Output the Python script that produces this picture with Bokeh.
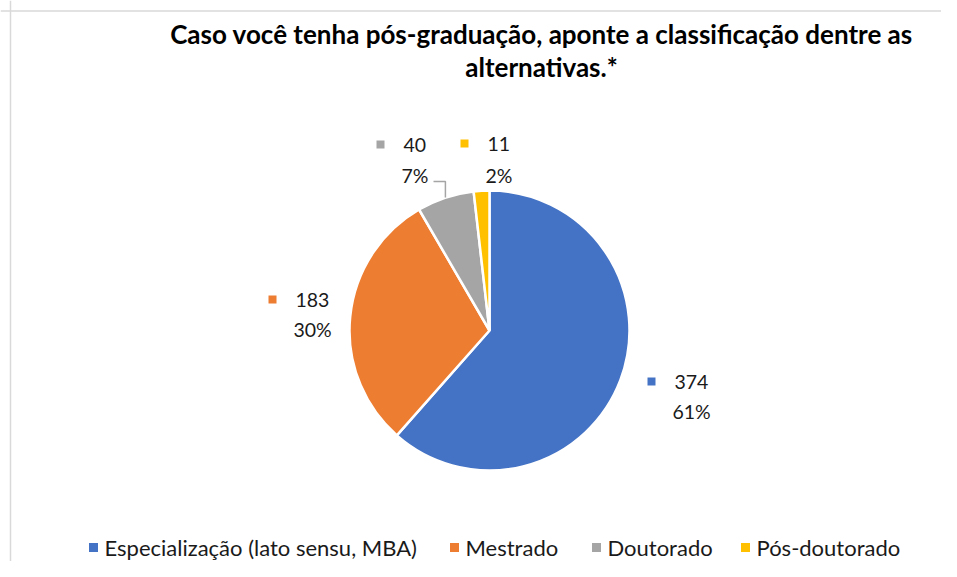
import math
from bokeh.plotting import figure
from bokeh.models import Range1d, Span, ColumnDataSource
from bokeh.core.properties import value
from bokeh.embed import file_html
from bokeh.resources import INLINE

# ---- data ----
categories = ["Especialização (lato sensu, MBA)", "Mestrado", "Doutorado", "Pós-doutorado"]
counts = [374, 183, 40, 11]
pct_labels = ["61%", "30%", "7%", "2%"]
colors = ["#4472C4", "#ED7D31", "#A5A5A5", "#FFC000"]
title_lines = ["Caso você tenha pós-graduação, aponte a classificação dentre as",
               "alternativas.*"]

# ---- layout (image pixel coordinates) ----
W, H = 941, 561
def X(px): return px
def Y(py): return H - py

FONT = "Lato"
TXT = "#1a1a1a"

p = figure(width=W, height=H, output_backend="svg", toolbar_location=None,
           x_range=Range1d(0, W), y_range=Range1d(0, H),
           x_axis_location=None, y_axis_location=None, min_border=0)
p.grid.visible = False
p.outline_line_color = None
p.background_fill_color = "white"
p.border_fill_color = "white"

# chart border (top and left visible in reference)
p.add_layout(Span(location=Y(10.5), dimension="width", line_color="#D9D9D9", line_width=1.5))
p.add_layout(Span(location=X(10), dimension="height", line_color="#D9D9D9", line_width=1.5))

# ---- pie ----
cx, cy, r = X(489), Y(330), 140
total = sum(counts)
starts, ends, mids = [], [], []
cum = 0
for c in counts:
    a0 = math.pi / 2 - 2 * math.pi * cum / total
    cum += c
    a1 = math.pi / 2 - 2 * math.pi * cum / total
    starts.append(a1)
    ends.append(a0)
    mids.append((a0 + a1) / 2)

src = ColumnDataSource(dict(start=starts, end=ends, color=colors))
p.wedge(x=cx, y=cy, radius=r, start_angle="start", end_angle="end", direction="anticlock",
        fill_color="color", line_color="white", line_width=2.5, source=src)

# ---- data labels ----
# (marker x, line1 y, value text x, pct text x, line2 y) in image px
label_pos = [(651, 381, 674, 672, 411),
             (272, 299, 295, 293, 329),
             (380, 144, 403, 401, 175),
             (464, 143, 487, 485, 175)]
LFS = "19.5px"
for i, (mx, y1, vx, px_, y2) in enumerate(label_pos):
    p.scatter([X(mx)], [Y(y1)], marker="square", size=8, fill_color=colors[i], line_color=None)
    p.text([X(vx)], [Y(y1)], text=[str(counts[i])], text_font=value(FONT), text_font_size=LFS,
           text_color=TXT, text_baseline="middle", text_align="left")
    p.text([X(px_)], [Y(y2)], text=[pct_labels[i]], text_font=value(FONT), text_font_size=LFS,
           text_color=TXT, text_baseline="middle", text_align="left")

# leader line for Doutorado label
gi = 2
ex = cx + r * math.cos(mids[gi])
ey = cy + r * math.sin(mids[gi])
p.line([X(433), ex, ex], [Y(181), Y(181), ey], line_color="#A5A5A5", line_width=1.5)

# ---- title ----
for ty, t in zip([33, 66], title_lines):
    p.text([X(541)], [Y(ty)], text=[t], text_font=value(FONT), text_font_size="26px",
           text_font_style="bold", text_color="#000000", text_baseline="middle", text_align="center")

# ---- legend ----
leg_marker_x = [93, 454, 596, 745]
leg_y = 547
for i, cat in enumerate(categories):
    p.scatter([X(leg_marker_x[i])], [Y(leg_y)], marker="square", size=9,
              fill_color=colors[i], line_color=None)
    p.text([X(leg_marker_x[i] + 11)], [Y(leg_y)], text=[cat], text_font=value(FONT),
           text_font_size="22px", text_color=TXT, text_baseline="middle", text_align="left")

open("out.html", "w").write(file_html(p, INLINE))
